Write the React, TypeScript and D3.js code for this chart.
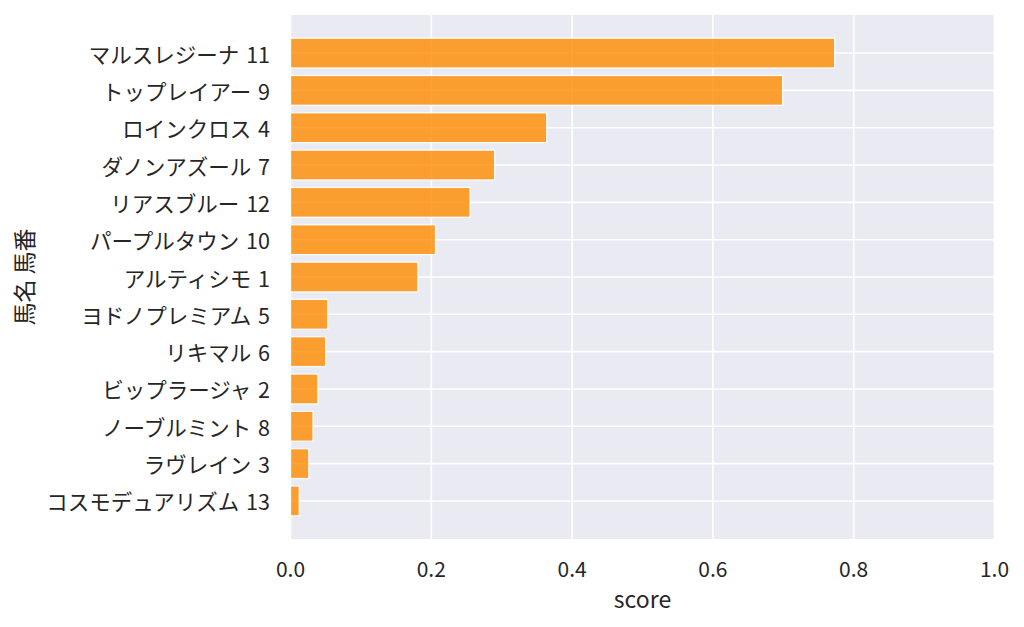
import React from "react";
import { scaleLinear, scaleBand } from "d3";

// horse labels, sorted by score (top to bottom)
const horses = [
  "マルスレジーナ 11",
  "トップレイアー 9",
  "ロインクロス 4",
  "ダノンアズール 7",
  "リアスブルー 12",
  "パープルタウン 10",
  "アルティシモ 1",
  "ヨドノプレミアム 5",
  "リキマル 6",
  "ビップラージャ 2",
  "ノーブルミント 8",
  "ラヴレイン 3",
  "コスモデュアリズム 13",
];
const scores = [
  0.773, 0.699, 0.364, 0.29, 0.255, 0.206, 0.181, 0.053, 0.05, 0.039, 0.032,
  0.026, 0.0125,
];
const xTicks = [0, 0.2, 0.4, 0.6, 0.8, 1.0];

const WIDTH = 1024;
const HEIGHT = 627;
const LEFT = 290.5;
const RIGHT = 994.5;
const TOP = 15;
const BOTTOM = 539;
const TEXT = "#262626";
const FONT = "'Noto Sans CJK JP', 'Noto Sans', sans-serif";

const App = () => {
  const xScale = scaleLinear().domain([0, 1]).range([LEFT, RIGHT]);
  const yScale = scaleBand()
    .domain(horses)
    .range([TOP, BOTTOM])
    .paddingInner(0.2)
    .paddingOuter(0.62);
  const bw = yScale.bandwidth();

  return (
    <svg
      width={WIDTH}
      height={HEIGHT}
      style={{ position: "absolute", left: 0, top: 0, background: "#fff" }}
      fontFamily={FONT}
    >
      {/* plot background */}
      <rect
        x={LEFT}
        y={TOP}
        width={RIGHT - LEFT}
        height={BOTTOM - TOP}
        fill="#eaeaf2"
      />
      {/* grid */}
      <g stroke="#fff" strokeWidth={1.6}>
        {xTicks.map((t) => (
          <line key={t} x1={xScale(t)} x2={xScale(t)} y1={TOP} y2={BOTTOM} />
        ))}
        {horses.map((h) => (
          <line
            key={h}
            x1={LEFT}
            x2={RIGHT}
            y1={yScale(h)! + bw / 2}
            y2={yScale(h)! + bw / 2}
          />
        ))}
      </g>
      {/* bars */}
      <g fill="#ff8c00" stroke="#fff" strokeWidth={1.3} opacity={0.8}>
        {horses.map((h, i) => (
          <rect
            key={h}
            x={xScale(0)}
            y={yScale(h)}
            width={xScale(scores[i]) - xScale(0)}
            height={bw}
          />
        ))}
      </g>
      {/* y tick labels */}
      <g fill={TEXT} fontSize={21.5} textAnchor="end" style={{ wordSpacing: 2 }}>
        {horses.map((h) => (
          <text
            key={h}
            x={LEFT - 20.5}
            y={yScale(h)! + bw / 2}
            dominantBaseline="central"
          >
            {h}
          </text>
        ))}
      </g>
      {/* x tick labels */}
      <g fill={TEXT} fontSize={21} textAnchor="middle">
        {xTicks.map((t) => (
          <text key={t} x={xScale(t)} y={577}>
            {t.toFixed(1)}
          </text>
        ))}
      </g>
      <text
        x={(LEFT + RIGHT) / 2}
        y={608}
        fill={TEXT}
        fontSize={23}
        textAnchor="middle"
      >
        score
      </text>
      <text
        transform={`translate(23, ${(TOP + BOTTOM) / 2}) rotate(-90)`}
        fill={TEXT}
        fontSize={23}
        textAnchor="middle"
        dominantBaseline="central"
      >
        馬名 馬番
      </text>
    </svg>
  );
};

export default App;
